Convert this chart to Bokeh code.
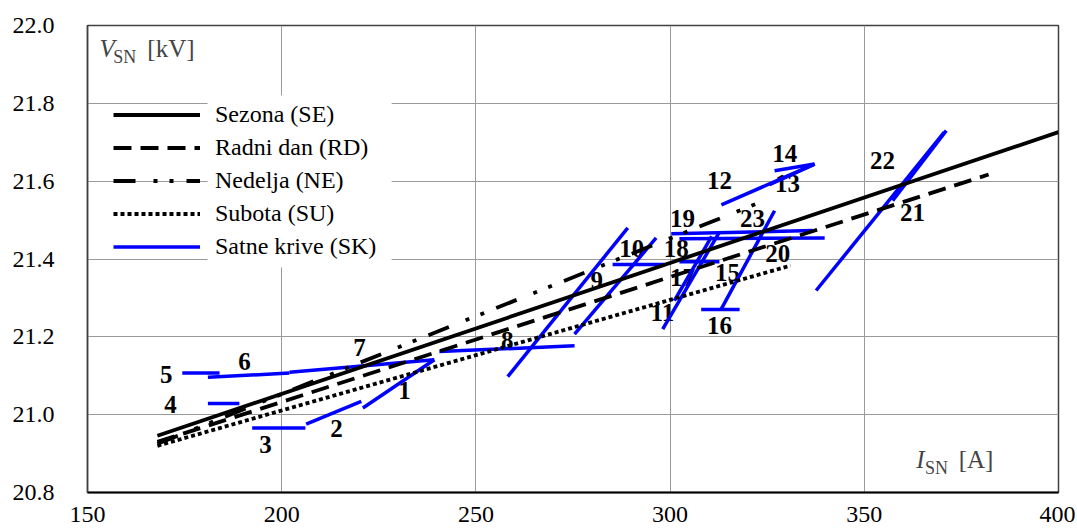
from bokeh.plotting import figure
from bokeh.models import (ColumnDataSource, Legend, LegendItem, FixedTicker,
                          PrintfTickFormatter, Label, BoxAnnotation, Range1d)
from bokeh.core.properties import value
from bokeh.embed import file_html
from bokeh.resources import INLINE

FONT = "Liberation Serif"

# ---- data ----
x_ticks = [150, 200, 250, 300, 350, 400]
y_ticks = [20.8, 21.0, 21.2, 21.4, 21.6, 21.8, 22.0]

season_I = [168, 400]
season_V = [20.946, 21.726]
workday_I = [168, 382]
workday_V = [20.930, 21.617]
sunday_I = [168, 325]
sunday_V = [20.925, 21.553]
saturday_I = [168, 331]
saturday_V = [20.920, 21.383]

hours = ["1", "2", "3", "4", "5", "6", "7", "8", "9", "10", "11", "12",
         "13", "14", "15", "16", "17", "18", "19", "20", "21", "22", "23"]
seg_i0 = [220.9, 206.3, 192.4, 181.0, 174.4, 181.0, 202.0, 240.6, 258.2, 285.2, 298.1, 313.2,
          325.6, 326.9, 313.2, 308.0, 301.1, 302.4, 300.3, 302.4, 337.6, 357.3, 275.4]
seg_v0 = [21.017, 20.976, 20.966, 21.029, 21.107, 21.096, 21.109, 21.162, 21.098, 21.386, 21.220, 21.539,
          21.591, 21.627, 21.272, 21.270, 21.293, 21.393, 21.465, 21.452, 21.319, 21.550, 21.207]
seg_i1 = [239.3, 220.5, 206.1, 189.1, 184.0, 202.0, 239.3, 275.4, 289.1, 298.6, 312.7, 337.2,
          337.2, 337.2, 326.9, 317.9, 310.7, 312.7, 336.7, 339.8, 370.6, 371.1, 296.4]
seg_v1 = [21.141, 21.034, 20.966, 21.029, 21.107, 21.107, 21.141, 21.177, 21.480, 21.386, 21.469, 21.644,
          21.644, 21.644, 21.524, 21.270, 21.458, 21.393, 21.473, 21.454, 21.726, 21.730, 21.454]

lab_i = [231.6, 214.1, 195.8, 171.4, 170.3, 190.4, 220.0, 258.1, 281.1, 290.1, 298.0, 312.7,
         330.2, 329.5, 314.8, 312.7, 303.2, 301.6, 303.2, 327.7, 362.4, 354.7, 321.2]
lab_v = [21.062, 20.964, 20.923, 21.026, 21.103, 21.136, 21.172, 21.190, 21.344, 21.427, 21.262, 21.602,
         21.594, 21.671, 21.365, 21.229, 21.352, 21.427, 21.504, 21.414, 21.519, 21.653, 21.504]

legend_labels = ["Sezona (SE)", "Radni dan (RD)", "Nedelja (NE)", "Subota (SU)", "Satne krive (SK)"]

# ---- figure ----
p = figure(width=1075, height=529, x_range=Range1d(150, 400), y_range=Range1d(20.8, 22.0),
           output_backend="svg", toolbar_location=None,
           min_border_left=87, min_border_right=17, min_border_top=25, min_border_bottom=37)
p.background_fill_color = "white"
p.border_fill_color = "white"
p.outline_line_color = "#404040"
p.outline_line_width = 1.5

for ax, ticks in ((p.xaxis, x_ticks), (p.yaxis, y_ticks)):
    ax.ticker = FixedTicker(ticks=ticks)
    ax.major_tick_line_color = None
    ax.minor_tick_line_color = None
    ax.major_tick_in = 0
    ax.major_tick_out = 0
    ax.major_label_text_font = FONT
    ax.major_label_text_font_size = "24px"
    ax.major_label_text_color = "black"
p.yaxis.formatter = PrintfTickFormatter(format="%.1f")
p.xaxis.major_label_standoff = 14
p.yaxis.major_label_standoff = 33
p.xaxis.axis_line_color = "black"
p.xaxis.axis_line_width = 2
p.yaxis.axis_line_color = "#404040"
p.yaxis.axis_line_width = 1.5

p.xgrid.ticker = FixedTicker(ticks=x_ticks)
p.ygrid.ticker = FixedTicker(ticks=y_ticks)
for g in (p.xgrid, p.ygrid):
    g.grid_line_color = "#9a9a9a"
    g.grid_line_width = 1

# white background behind legend texts (grid hidden there)
p.add_layout(BoxAnnotation(left=180.9, right=228.3, bottom=21.378, top=21.82,
                           fill_color="white", fill_alpha=1.0, line_color=None,
                           level="underlay"))

# hour labels (drawn beneath lines)
lab_src = ColumnDataSource(dict(i=lab_i, v=lab_v, t=hours))
p.text(x="i", y="v", text="t", source=lab_src, text_font=value(FONT),
       text_font_style="bold", text_font_size=value("25px"), text_align="center",
       text_baseline="middle", text_color="black")

# hourly curves
seg_src = ColumnDataSource(dict(x0=seg_i0, y0=seg_v0, x1=seg_i1, y1=seg_v1))
r_sk = p.segment(x0="x0", y0="y0", x1="x1", y1="y1", source=seg_src,
                 line_color="#0000ff", line_width=3.5)

r_se = p.line(season_I, season_V, line_color="black", line_width=3.8)
r_rd = p.line(workday_I, workday_V, line_color="black", line_width=3.8, line_dash="18 9")
r_ne = p.line(sunday_I, sunday_V, line_color="black", line_width=3.8,
              line_dash="22 18 4 12 4 13")
r_su = p.line(saturday_I, saturday_V, line_color="black", line_width=3.8, line_dash="4 3")

legend = Legend(items=[LegendItem(label=l, renderers=[r]) for l, r in
                       zip(legend_labels, [r_se, r_rd, r_ne, r_su, r_sk])],
                location=(26, 232), padding=0, margin=0, spacing=6,
                glyph_width=87, glyph_height=27, label_height=27, label_standoff=15,
                label_text_font=FONT, label_text_font_size="24px",
                label_text_color="black", border_line_color=None,
                background_fill_alpha=0)
p.add_layout(legend)

# axis titles inside the plot
p.add_layout(Label(x=153.1, y=21.940, text="V", text_font=FONT, text_font_style="italic",
                   text_font_size="25px", text_baseline="alphabetic"))
p.add_layout(Label(x=156.6, y=21.918, text="SN", text_font=FONT,
                   text_font_size="18px", text_baseline="alphabetic"))
p.add_layout(Label(x=165.4, y=21.940, text="[kV]", text_font=FONT,
                   text_font_size="25px", text_baseline="alphabetic"))
p.add_layout(Label(x=363.4, y=20.885, text="I", text_font=FONT, text_font_style="italic",
                   text_font_size="25px", text_baseline="alphabetic"))
p.add_layout(Label(x=365.6, y=20.864, text="SN", text_font=FONT,
                   text_font_size="18px", text_baseline="alphabetic"))
p.add_layout(Label(x=374.3, y=20.885, text="[A]", text_font=FONT,
                   text_font_size="25px", text_baseline="alphabetic"))

open("out.html", "w").write(file_html(p, INLINE))
